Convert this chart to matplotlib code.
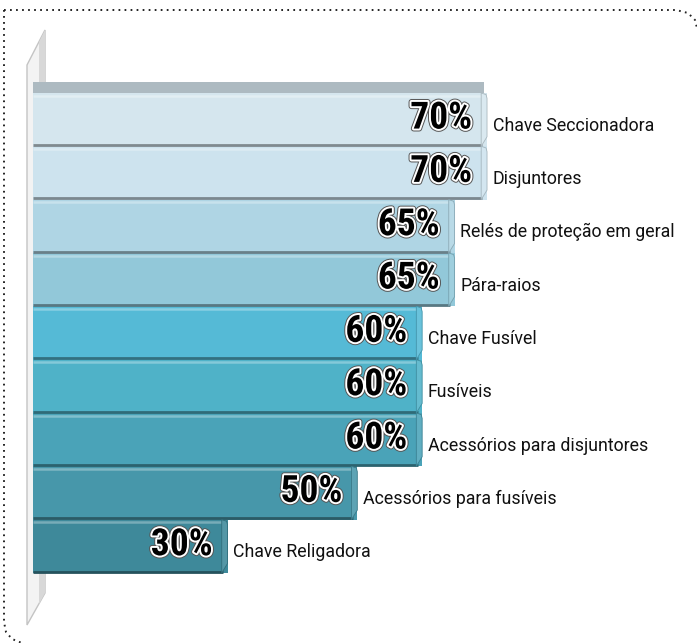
import matplotlib
matplotlib.use('Agg')
import matplotlib.pyplot as plt
import matplotlib.patheffects as pe
from matplotlib.patches import Polygon, Rectangle
from matplotlib.lines import Line2D
import matplotlib.transforms as mtrans
import matplotlib.colors as mcolors

categories = ['Chave Seccionadora', 'Disjuntores', 'Relés de proteção em geral',
              'Pára-raios', 'Chave Fusível', 'Fusíveis',
              'Acessórios para disjuntores', 'Acessórios para fusíveis',
              'Chave Religadora']
values = [70, 70, 65, 65, 60, 60, 60, 50, 30]
bar_colors = ['#d5e6ee', '#cde3ee', '#afd5e4', '#92c8d9', '#55bad6',
              '#4fb2c8', '#4aa3b8', '#4797aa', '#3e899a']

W, H = 697, 643
fig = plt.figure(figsize=(W / 100, H / 100), dpi=100)
# pixel coordinates, origin top-left
px = mtrans.Affine2D().scale(1 / W, -1 / H).translate(0, 1) + fig.transFigure

x0, top, bottom = 33, 93, 573
unit = 6.486  # pixels per percent
ax = fig.add_axes([x0 / W, (H - bottom) / H, (W - x0) / W, (bottom - top) / H])
ax.set_xlim(0, (W - x0) / unit)
ax.set_ylim(len(values) - 0.5, -0.5)
ax.axis('off')
ax.patch.set_alpha(0)

# dotted frame, square top-left, rounded top-right and bottom-left
frame_kw = dict(color='#222222', lw=1.4, dashes=(0.9, 2.2), transform=px, zorder=-2)
fig.add_artist(Line2D([4, 4, 6, 12, 22], [10, 622, 632, 639, 643], **frame_kw))
fig.add_artist(Line2D([4, 676, 688, 695, 697], [10, 10, 13, 20, 28], **frame_kw))

# back wall (behind bars)
fig.add_artist(Polygon([[27, 65], [45, 30], [45, 593], [27, 625]], closed=True,
                       facecolor='#f3f3f3', edgecolor='#c4c4c4', lw=1.0,
                       transform=px, zorder=-1))
fig.add_artist(Polygon([[39, 42], [45, 30], [45, 593], [39, 604]], closed=True,
                       facecolor='#d8d8d8', edgecolor='none', transform=px, zorder=-1))

ypos = list(range(len(values)))
ax.barh(ypos, values, height=1.0, color=bar_colors, edgecolor='none', zorder=2)

# top face of first bar
ax.add_patch(Rectangle((0, -0.5 - 0.2), values[0] - 0.5, 0.2,
                       facecolor='#adbac1', edgecolor='none', clip_on=False, zorder=2))

for i, (v, c) in enumerate(zip(values, bar_colors)):
    rgb = mcolors.to_rgb(c)
    dark = tuple(ch * 0.6 for ch in rgb)
    light = tuple(ch + (1 - ch) * 0.3 for ch in rgb)
    # highlight under top edge, dark separator at bottom
    ax.plot([0, v - 0.4], [i - 0.45, i - 0.45], color=light, lw=1.8, zorder=3,
            solid_capstyle='butt')
    ax.plot([0, v - 0.7], [i + 0.475, i + 0.475], color=dark, lw=2.0, zorder=3,
            solid_capstyle='butt', clip_on=False)
    # rounded right end
    ax.add_patch(Polygon([[v - 0.9, i - 0.5], [v - 0.15, i - 0.47], [v, i - 0.4],
                          [v, i + 0.32], [v - 0.9, i + 0.5]], closed=True,
                         facecolor=tuple(ch + (1 - ch) * 0.12 for ch in rgb),
                         edgecolor=tuple(ch * 0.8 for ch in rgb), lw=0.6,
                         zorder=3, clip_on=False))

    ax.text(v - 2.3, i - 0.03, f'{v}%', ha='right', va='center',
            fontsize=27, fontweight='bold', fontstretch='condensed',
            family=['Roboto Condensed', 'Roboto', 'DejaVu Sans'],
            color='black', zorder=5,
            path_effects=[pe.Stroke(linewidth=4.2, foreground='#555555'),
                          pe.Stroke(linewidth=2.8, foreground='white'),
                          pe.Normal()])
    ax.text(v + 0.9, i + 0.11, categories[i], ha='left', va='center',
            fontsize=12.8, family=['Roboto', 'DejaVu Sans'], color='#111111', zorder=5)

fig.savefig('out.png', dpi=100)
